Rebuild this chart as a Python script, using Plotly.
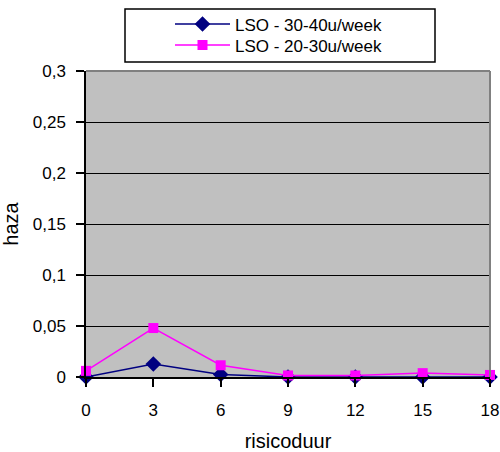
import plotly.graph_objects as go

# risk duration (categories on the x axis)
risicoduur = [0, 3, 6, 9, 12, 15, 18]

# hazard per risk duration, two workload groups
haza_30_40 = [0.0, 0.0127, 0.0025, 0.0, 0.0, 0.0, 0.0]
haza_20_30 = [0.006, 0.048, 0.0115, 0.0015, 0.0015, 0.0038, 0.002]

series_names = ["LSO - 30-40u/week", "LSO - 20-30u/week"]

y_ticks = [0, 0.05, 0.1, 0.15, 0.2, 0.25, 0.3]
y_ticktext = ["0", "0,05", "0,1", "0,15", "0,2", "0,25", "0,3"]

FONT = "Arial, Liberation Sans, sans-serif"
FS = 17

fig = go.Figure()
fig.add_trace(go.Scatter(
    x=risicoduur, y=haza_30_40, name=series_names[0], mode="lines+markers",
    line=dict(color="#000080", width=1.5),
    marker=dict(symbol="diamond", size=12, color="#000080"),
    cliponaxis=False, legend="legend",
))
fig.add_trace(go.Scatter(
    x=risicoduur, y=haza_20_30, name=series_names[1], mode="lines+markers",
    line=dict(color="#ff00ff", width=1.5),
    marker=dict(symbol="square", size=10, color="#ff00ff"),
    cliponaxis=False, legend="legend2",
))

L, R, T, B = 86, 10, 71, 75
W, H = 500, 452
pw, ph = W - L - R, H - T - B


def px_x(p):
    return (p - L) / pw


def px_y(p):
    return (H - B - p) / ph


shapes = [
    # legend frame
    dict(type="rect", xref="paper", yref="paper",
         x0=px_x(125), x1=px_x(435), y0=px_y(62), y1=px_y(9),
         line=dict(color="black", width=1.5), fillcolor="white", layer="above"),
    # grey frame on the top and right of the plot area
    dict(type="line", xref="paper", yref="paper", x0=0, x1=1, y0=1, y1=1,
         line=dict(color="#808080", width=2), layer="above"),
    dict(type="line", xref="paper", yref="paper", x0=1, x1=1, y0=0, y1=1,
         line=dict(color="#808080", width=2), layer="above"),
]

legend_style = dict(
    xanchor="left", yanchor="top",
    bgcolor="rgba(0,0,0,0)", borderwidth=0,
    font=dict(family=FONT, size=FS, color="black"),
    itemwidth=55,
)

fig.update_layout(
    width=W, height=H,
    margin=dict(l=L, r=R, t=T, b=B, autoexpand=False),
    paper_bgcolor="white",
    plot_bgcolor="#c0c0c0",
    font=dict(family=FONT, size=FS, color="black"),
    shapes=shapes,
    showlegend=True,
    legend=dict(x=px_x(170), y=px_y(6.5), **legend_style),
    legend2=dict(x=px_x(170), y=px_y(27.5), **legend_style),
    xaxis=dict(
        range=[0, 18], tickvals=risicoduur, ticktext=[str(v) for v in risicoduur],
        showgrid=False, zeroline=False, automargin=False,
        showline=True, linecolor="black", linewidth=1.5,
        ticks="outside", ticklen=8, tickcolor="black", tickwidth=1.5,
        ticklabelstandoff=9,
        title=dict(text="risicoduur", standoff=20),
    ),
    yaxis=dict(
        range=[0, 0.3], tickvals=y_ticks, ticktext=y_ticktext,
        showgrid=True, gridcolor="black", gridwidth=1,
        zeroline=False, automargin=False,
        showline=True, linecolor="black", linewidth=1.5,
        ticks="outside", ticklen=8, tickcolor="black", tickwidth=1.5,
        ticklabelstandoff=7,
        title=dict(text="haza", standoff=10),
    ),
)

fig.write_html("out.html")
